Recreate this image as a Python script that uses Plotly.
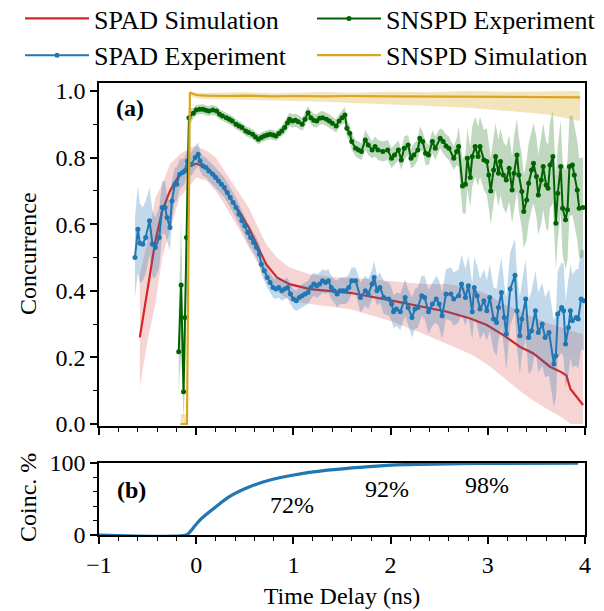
import plotly.graph_objects as go
from plotly.subplots import make_subplots

# ---------------- data ----------------
spad_sim_t = [-0.58, -0.50, -0.42, -0.35, -0.27, -0.17, -0.06, 0.00, 0.11, 0.20,
              0.28, 0.36, 0.45, 0.54, 0.62, 0.72, 0.83, 0.96, 1.17, 1.45,
              1.58, 1.99, 2.34, 2.58, 2.82, 2.99, 3.16, 3.33, 3.47, 3.64,
              3.76, 3.81, 3.85, 3.98]
spad_sim_c = [0.26, 0.40, 0.55, 0.64, 0.70, 0.75, 0.775, 0.782, 0.77, 0.745,
              0.71, 0.675, 0.635, 0.59, 0.54, 0.48, 0.44, 0.42, 0.405, 0.397,
              0.394, 0.372, 0.352, 0.337, 0.317, 0.297, 0.267, 0.232, 0.212, 0.172,
              0.155, 0.145, 0.105, 0.057]
spad_sim_lo = [0.11, 0.25, 0.36, 0.50, 0.58, 0.68, 0.72, 0.74, 0.73, 0.70,
               0.665, 0.625, 0.58, 0.53, 0.49, 0.43, 0.40, 0.37, 0.36, 0.35,
               0.345, 0.31, 0.27, 0.24, 0.21, 0.18, 0.14, 0.10, 0.07, 0.04,
               0.02, 0.01, 0.0, 0.0]
spad_sim_hi = [0.45, 0.55, 0.68, 0.72, 0.78, 0.81, 0.83, 0.835, 0.82, 0.80,
               0.765, 0.73, 0.69, 0.65, 0.60, 0.54, 0.50, 0.47, 0.45, 0.44,
               0.44, 0.43, 0.42, 0.42, 0.41, 0.39, 0.36, 0.34, 0.32, 0.30,
               0.29, 0.285, 0.28, 0.27]

spad_exp_t = [-0.63, -0.60, -0.58, -0.55, -0.52, -0.48, -0.45, -0.42, -0.38, -0.35,
              -0.32, -0.30, -0.27, -0.25, -0.22, -0.20, -0.17, -0.14, -0.12, -0.09,
              -0.05, -0.01, 0.02, 0.04, 0.07, 0.10, 0.13, 0.17, 0.20, 0.23,
              0.26, 0.29, 0.32, 0.35, 0.38, 0.41, 0.44, 0.47, 0.50, 0.53,
              0.56, 0.59, 0.62, 0.65, 0.67, 0.70, 0.73, 0.76, 0.79, 0.82,
              0.85, 0.88, 0.91, 0.94, 0.97, 1.00, 1.03, 1.06, 1.09, 1.12,
              1.15, 1.18, 1.21, 1.24, 1.27, 1.30, 1.33, 1.36, 1.39, 1.42,
              1.45, 1.48, 1.51, 1.54, 1.57, 1.60, 1.64, 1.69, 1.74, 1.77,
              1.81, 1.83, 1.86, 1.89, 1.93, 1.98, 2.01, 2.03, 2.06, 2.10,
              2.15, 2.18, 2.22, 2.25, 2.28, 2.32, 2.35, 2.39, 2.43, 2.47,
              2.50, 2.53, 2.57, 2.62, 2.65, 2.70, 2.73, 2.77, 2.80, 2.84,
              2.86, 2.89, 2.92, 2.96, 2.99, 3.02, 3.06, 3.09, 3.11, 3.14,
              3.17, 3.19, 3.23, 3.28, 3.30, 3.33, 3.35, 3.39, 3.42, 3.45,
              3.49, 3.52, 3.56, 3.59, 3.63, 3.68, 3.70, 3.72, 3.76, 3.78,
              3.80, 3.83, 3.85, 3.87, 3.91, 3.93, 3.96, 3.99]
spad_exp_c = [0.50, 0.585, 0.543, 0.54, 0.56, 0.61, 0.54, 0.53, 0.56, 0.65,
              0.65, 0.62, 0.59, 0.67, 0.72, 0.72, 0.75, 0.755, 0.76, 0.79,
              0.78, 0.80, 0.81, 0.79, 0.775, 0.77, 0.76, 0.75, 0.74, 0.73,
              0.72, 0.71, 0.695, 0.68, 0.665, 0.65, 0.63, 0.61, 0.595, 0.575,
              0.56, 0.545, 0.53, 0.51, 0.48, 0.46, 0.44, 0.425, 0.41, 0.405,
              0.41, 0.40, 0.405, 0.41, 0.39, 0.375, 0.37, 0.38, 0.385, 0.39,
              0.395, 0.41, 0.42, 0.415, 0.42, 0.43, 0.425, 0.43, 0.41, 0.40,
              0.39, 0.40, 0.40, 0.40, 0.41, 0.43, 0.43, 0.38, 0.40, 0.39,
              0.42, 0.44, 0.40, 0.41, 0.38, 0.375, 0.36, 0.337, 0.345, 0.337,
              0.38, 0.35, 0.32, 0.345, 0.35, 0.385, 0.38, 0.337, 0.36, 0.375,
              0.36, 0.325, 0.39, 0.39, 0.375, 0.385, 0.42, 0.38, 0.415, 0.337,
              0.41, 0.385, 0.345, 0.37, 0.34, 0.38, 0.315, 0.305, 0.35, 0.395,
              0.32, 0.27, 0.405, 0.447, 0.34, 0.265, 0.315, 0.375, 0.26, 0.28,
              0.34, 0.275, 0.30, 0.26, 0.275, 0.18, 0.205, 0.33, 0.35, 0.34,
              0.24, 0.29, 0.34, 0.31, 0.32, 0.315, 0.375, 0.37]
spad_exp_err = [0.12, 0.13, 0.12, 0.11, 0.11, 0.10, 0.10, 0.09, 0.09, 0.08,
                0.08, 0.07, 0.07, 0.06, 0.05, 0.05, 0.045, 0.04, 0.04, 0.035,
                0.035, 0.035, 0.035, 0.03, 0.03, 0.03, 0.03, 0.03, 0.03, 0.03,
                0.03, 0.03, 0.03, 0.03, 0.03, 0.03, 0.03, 0.03, 0.03, 0.03,
                0.03, 0.03, 0.03, 0.03, 0.03, 0.03, 0.03, 0.03, 0.03, 0.03,
                0.03, 0.03, 0.03, 0.03, 0.03, 0.03, 0.03, 0.035, 0.035, 0.035,
                0.035, 0.035, 0.035, 0.035, 0.035, 0.035, 0.035, 0.035, 0.035, 0.035,
                0.04, 0.04, 0.04, 0.04, 0.04, 0.04, 0.04, 0.045, 0.045, 0.045,
                0.045, 0.05, 0.045, 0.045, 0.05, 0.05, 0.05, 0.05, 0.05, 0.055,
                0.055, 0.055, 0.06, 0.06, 0.06, 0.06, 0.065, 0.065, 0.065, 0.07,
                0.07, 0.07, 0.075, 0.08, 0.08, 0.08, 0.09, 0.085, 0.09, 0.085,
                0.09, 0.09, 0.09, 0.095, 0.09, 0.10, 0.095, 0.10, 0.10, 0.105,
                0.10, 0.11, 0.11, 0.11, 0.11, 0.115, 0.11, 0.12, 0.11, 0.12,
                0.12, 0.12, 0.125, 0.12, 0.13, 0.13, 0.13, 0.13, 0.135, 0.14,
                0.13, 0.14, 0.14, 0.14, 0.145, 0.15, 0.15, 0.15]

snspd_exp_t = [-0.18, -0.155, -0.13, -0.115, -0.10, -0.075, -0.03, 0.00, 0.035, 0.07,
               0.10, 0.13, 0.17, 0.21, 0.24, 0.27, 0.31, 0.34, 0.37, 0.41,
               0.44, 0.47, 0.51, 0.54, 0.58, 0.61, 0.64, 0.67, 0.70, 0.73,
               0.76, 0.79, 0.82, 0.85, 0.88, 0.91, 0.94, 0.96, 0.99, 1.02,
               1.05, 1.09, 1.12, 1.15, 1.18, 1.21, 1.24, 1.27, 1.30, 1.34,
               1.37, 1.40, 1.44, 1.47, 1.50, 1.53, 1.55, 1.58, 1.60, 1.64,
               1.67, 1.70, 1.74, 1.77, 1.81, 1.84, 1.87, 1.92, 1.97, 2.01,
               2.04, 2.08, 2.11, 2.14, 2.18, 2.21, 2.24, 2.28, 2.30, 2.33,
               2.36, 2.39, 2.43, 2.46, 2.51, 2.54, 2.57, 2.60, 2.65, 2.68,
               2.70, 2.74, 2.77, 2.79, 2.82, 2.84, 2.87, 2.90, 2.92, 2.96,
               2.99, 3.01, 3.03, 3.06, 3.08, 3.11, 3.13, 3.16, 3.19, 3.22,
               3.25, 3.27, 3.30, 3.32, 3.35, 3.37, 3.40, 3.42, 3.45, 3.47,
               3.50, 3.52, 3.55, 3.57, 3.60, 3.62, 3.64, 3.67, 3.70, 3.72,
               3.75, 3.77, 3.80, 3.82, 3.84, 3.87, 3.89, 3.92, 3.94, 3.98]
snspd_exp_c = [0.217, 0.417, 0.097, 0.32, 0.56, 0.92, 0.933, 0.943, 0.945, 0.945,
               0.942, 0.94, 0.943, 0.94, 0.93, 0.925, 0.92, 0.915, 0.91, 0.90,
               0.895, 0.89, 0.88, 0.875, 0.87, 0.862, 0.855, 0.86, 0.865, 0.868,
               0.87, 0.868, 0.865, 0.872, 0.88, 0.89, 0.905, 0.915, 0.91, 0.912,
               0.908, 0.90, 0.915, 0.935, 0.92, 0.912, 0.91, 0.918, 0.92, 0.915,
               0.91, 0.903, 0.895, 0.91, 0.92, 0.928, 0.888, 0.873, 0.848, 0.828,
               0.823, 0.818, 0.853, 0.838, 0.823, 0.833, 0.823, 0.818, 0.823, 0.798,
               0.808, 0.823, 0.793, 0.828, 0.838, 0.798, 0.808, 0.823, 0.858, 0.848,
               0.813, 0.808, 0.848, 0.828, 0.858, 0.848, 0.835, 0.828, 0.798, 0.818,
               0.833, 0.715, 0.72, 0.798, 0.74, 0.803, 0.833, 0.803, 0.833, 0.793,
               0.788, 0.748, 0.70, 0.763, 0.803, 0.753, 0.788, 0.748, 0.733, 0.768,
               0.703, 0.753, 0.808, 0.748, 0.698, 0.638, 0.673, 0.723, 0.763, 0.783,
               0.743, 0.688, 0.733, 0.773, 0.718, 0.708, 0.778, 0.803, 0.603, 0.693,
               0.773, 0.648, 0.613, 0.643, 0.773, 0.778, 0.748, 0.703, 0.648, 0.65]
snspd_exp_err = [0.12, 0.20, 0.08, 0.20, 0.15, 0.03, 0.015, 0.015, 0.015, 0.015,
                 0.015, 0.015, 0.015, 0.015, 0.015, 0.015, 0.015, 0.015, 0.015, 0.015,
                 0.015, 0.015, 0.015, 0.015, 0.015, 0.015, 0.015, 0.015, 0.015, 0.015,
                 0.015, 0.015, 0.015, 0.015, 0.015, 0.02, 0.02, 0.02, 0.02, 0.02,
                 0.02, 0.02, 0.02, 0.02, 0.02, 0.02, 0.02, 0.02, 0.02, 0.02,
                 0.02, 0.02, 0.02, 0.02, 0.02, 0.025, 0.025, 0.025, 0.025, 0.025,
                 0.025, 0.025, 0.03, 0.03, 0.025, 0.03, 0.03, 0.03, 0.03, 0.03,
                 0.03, 0.03, 0.03, 0.035, 0.03, 0.03, 0.035, 0.03, 0.035, 0.03,
                 0.035, 0.03, 0.035, 0.035, 0.03, 0.035, 0.035, 0.035, 0.035, 0.04,
                 0.06, 0.08, 0.09, 0.09, 0.09, 0.09, 0.09, 0.09, 0.09, 0.09,
                 0.10, 0.10, 0.10, 0.10, 0.10, 0.10, 0.10, 0.10, 0.10, 0.10,
                 0.10, 0.11, 0.11, 0.11, 0.11, 0.11, 0.12, 0.12, 0.12, 0.12,
                 0.12, 0.12, 0.13, 0.13, 0.13, 0.13, 0.13, 0.14, 0.14, 0.14,
                 0.14, 0.14, 0.15, 0.15, 0.15, 0.15, 0.15, 0.15, 0.15, 0.15]

snspd_sim_t = [-0.16, -0.095, -0.065, -0.05, 0.00, 0.10, 0.30, 0.50, 0.80, 1.00,
               1.30, 1.60, 2.00, 2.40, 2.80, 3.20, 3.60, 3.95]
snspd_sim_c = [0.0, 0.0, 0.996, 0.993, 0.988, 0.986, 0.985, 0.986, 0.984, 0.985,
               0.984, 0.985, 0.984, 0.983, 0.984, 0.983, 0.982, 0.981]
snspd_sim_lo = [0.0, 0.0, 0.985, 0.984, 0.978, 0.976, 0.975, 0.975, 0.972, 0.970,
                0.968, 0.965, 0.960, 0.955, 0.950, 0.940, 0.930, 0.910]
snspd_sim_hi = [0.03, 0.03, 1.0, 0.999, 0.995, 0.994, 0.994, 0.996, 0.993, 0.995,
                0.997, 0.995, 0.998, 0.996, 1.0, 0.998, 1.0, 1.0]

coinc_t = [-1.0, -0.10, -0.08, 0.04, 0.20, 0.35, 0.55, 0.75, 0.99, 1.35,
           1.74, 2.14, 2.73, 3.20, 3.93]
coinc_v = [0.0, 0.0, 2.0, 21.0, 39.0, 54.0, 67.0, 76.0, 83.0, 90.0,
           94.5, 97.7, 99.0, 99.5, 99.8]

coinc_labels = ["72%", "92%", "98%"]
coinc_label_t = [0.99, 1.96, 2.99]
coinc_label_v = [41, 64.5, 69]

# ---------------- style ----------------
RED = "#d62728"
BLUE = "#1f77b4"
GREEN = "#006400"
GOLD = "#daa520"
FONT = "Liberation Serif"

W, H = 604, 611
ML, MT, MR, MB = 99, 83, 19, 76
PW, PH = W - ML - MR, H - MT - MB


def px_to_paper_x(px):
    return (px - ML) / PW


def px_to_paper_y(py):
    return (H - MB - py) / PH


fig = make_subplots(rows=2, cols=1)


def band(t, lo, hi, color, xa="x", ya="y"):
    return go.Scatter(x=list(t) + list(t)[::-1], y=list(hi) + list(lo)[::-1],
                      fill="toself", fillcolor=color, line=dict(width=0),
                      mode="lines", hoverinfo="skip", showlegend=False,
                      xaxis=xa, yaxis=ya)


def lo_hi(c, e):
    return [a - b for a, b in zip(c, e)], [a + b for a, b in zip(c, e)]


fig.add_trace(band(spad_sim_t, spad_sim_lo, spad_sim_hi, "rgba(214,39,40,0.2)"))
fig.add_trace(go.Scatter(x=spad_sim_t, y=spad_sim_c, mode="lines", name="SPAD Simulation",
                         line=dict(color=RED, width=2.2), legend="legend"))

lo, hi = lo_hi(spad_exp_c, spad_exp_err)
fig.add_trace(band(spad_exp_t, lo, hi, "rgba(31,119,180,0.28)"))
fig.add_trace(go.Scatter(x=spad_exp_t, y=spad_exp_c, mode="lines+markers", name="SPAD Experiment",
                         line=dict(color=BLUE, width=2), marker=dict(size=5, color=BLUE),
                         legend="legend"))

lo, hi = lo_hi(snspd_exp_c, snspd_exp_err)
fig.add_trace(band(snspd_exp_t, lo, hi, "rgba(0,100,0,0.25)"))
fig.add_trace(go.Scatter(x=snspd_exp_t, y=snspd_exp_c, mode="lines+markers", name="SNSPD Experiment",
                         line=dict(color=GREEN, width=2), marker=dict(size=5, color=GREEN),
                         legend="legend2"))

fig.add_trace(band(snspd_sim_t, snspd_sim_lo, snspd_sim_hi, "rgba(218,165,32,0.3)"))
fig.add_trace(go.Scatter(x=snspd_sim_t, y=snspd_sim_c, mode="lines", name="SNSPD Simulation",
                         line=dict(color=GOLD, width=2.2), legend="legend2"))

fig.add_trace(go.Scatter(x=coinc_t, y=coinc_v, mode="lines", line=dict(color=BLUE, width=3.2, shape="spline"),
                         showlegend=False, xaxis="x2", yaxis="y2"))

axis_common = dict(showline=True, mirror=True, linecolor="black", linewidth=1.5,
                   ticks="outside", ticklen=7, tickwidth=1.5, tickcolor="black",
                   showgrid=False, zeroline=False,
                   tickfont=dict(family=FONT, size=24, color="black"))

legend_top = px_to_paper_y(-5)
legend_common = dict(orientation="v", xref="paper", yref="paper", y=legend_top,
                     xanchor="left", yanchor="top", itemwidth=64,
                     font=dict(family=FONT, size=26, color="black"), bgcolor="rgba(0,0,0,0)",
                     tracegroupgap=0)

fig.update_layout(
    xaxis=dict(axis_common, range=[-1, 4], dtick=1, tick0=0, showticklabels=False,
               minor=dict(ticks="outside", ticklen=4, tickwidth=1.2, dtick=0.2, tickcolor="black"),
               anchor="y"),
    yaxis=dict(axis_common, range=[-0.006, 1.024], domain=[0.2412, 1.0], dtick=0.2, tick0=0,
               tickformat=".1f",
               minor=dict(ticks="outside", ticklen=4, tickwidth=1.2, dtick=0.1, tickcolor="black"),
               anchor="x"),
    xaxis2=dict(axis_common, range=[-1, 4], dtick=1, tick0=0,
                minor=dict(ticks="outside", ticklen=4, tickwidth=1.2, dtick=0.2, tickcolor="black"),
                title=dict(text="Time Delay (ns)", font=dict(family=FONT, size=24, color="black"), standoff=11),
                anchor="y2"),
    yaxis2=dict(axis_common, range=[0, 100], domain=[0.0, 0.1593], tickvals=[0, 100],
                minor=dict(ticks="outside", ticklen=4, tickwidth=1.2, tickvals=[20, 40, 60, 80], tickcolor="black"),
                anchor="x2"),
    width=W, height=H,
    margin=dict(l=ML, r=MR, t=MT, b=MB, autoexpand=False),
    plot_bgcolor="white", paper_bgcolor="white",
    font=dict(family=FONT, size=24, color="black"),
    legend=dict(legend_common, x=px_to_paper_x(20)),
    legend2=dict(legend_common, x=px_to_paper_x(312)),
    showlegend=True,
)

# y-axis titles (aligned like the reference)
fig.add_annotation(x=px_to_paper_x(28), y=px_to_paper_y(254), xref="paper", yref="paper",
                   text="Concurrence", textangle=-90, showarrow=False,
                   xanchor="center", yanchor="middle",
                   font=dict(family=FONT, size=24, color="black"))
fig.add_annotation(x=px_to_paper_x(28), y=px_to_paper_y(498), xref="paper", yref="paper",
                   text="Coinc. %", textangle=-90, showarrow=False,
                   xanchor="center", yanchor="middle",
                   font=dict(family=FONT, size=24, color="black"))

for txt, tx, ty in zip(coinc_labels, coinc_label_t, coinc_label_v):
    fig.add_annotation(x=tx, y=ty, xref="x2", yref="y2", text=txt, showarrow=False,
                       font=dict(family=FONT, size=24, color="black"))

fig.add_annotation(x=-0.68, y=0.95, xref="x", yref="y", text="<b>(a)</b>", showarrow=False,
                   font=dict(family=FONT, size=24, color="black"))
fig.add_annotation(x=-0.67, y=62, xref="x2", yref="y2", text="<b>(b)</b>", showarrow=False,
                   font=dict(family=FONT, size=24, color="black"))

fig.write_html("out.html", config={"displayModeBar": False},
               post_script="document.body.style.margin='0px';")
